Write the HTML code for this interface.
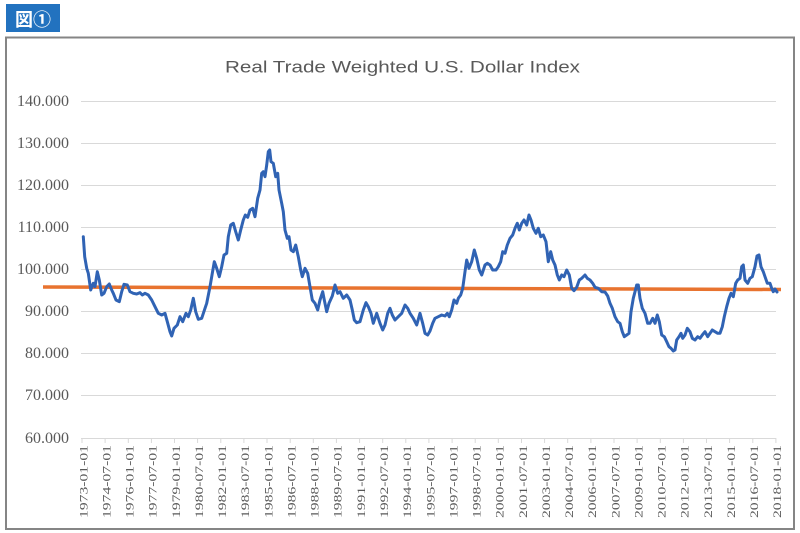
<!DOCTYPE html>
<html>
<head>
<meta charset="utf-8">
<style>
  html,body{margin:0;padding:0;background:#fff;}
  svg{display:block;}
</style>
</head>
<body>
<svg width="800" height="533" viewBox="0 0 800 533" xmlns="http://www.w3.org/2000/svg">
  <rect x="0" y="0" width="800" height="533" fill="#ffffff"/>
  <!-- label box -->
  <rect x="6" y="4" width="54" height="28" fill="#2272bf"/>
  <text x="33" y="26" text-anchor="middle" font-family="'Liberation Sans','Noto Sans CJK JP',sans-serif" font-size="18" font-weight="bold" fill="#ffffff">図①</text>
  <!-- chart border -->
  <rect x="6" y="37.5" width="788" height="491.5" fill="#ffffff" stroke="#858585" stroke-width="2"/>
  <!-- title -->
  <text x="402.5" y="72.5" text-anchor="middle" font-family="'Liberation Sans',sans-serif" font-size="17" fill="#595959" textLength="355" lengthAdjust="spacingAndGlyphs">Real Trade Weighted U.S. Dollar Index</text>
  <!-- gridlines -->
  <g stroke="#d9d9d9" stroke-width="1">
    <line x1="81" y1="101.5" x2="776" y2="101.5"/>
    <line x1="81" y1="143.5" x2="776" y2="143.5"/>
    <line x1="81" y1="185.5" x2="776" y2="185.5"/>
    <line x1="81" y1="227.5" x2="776" y2="227.5"/>
    <line x1="81" y1="269.5" x2="776" y2="269.5"/>
    <line x1="81" y1="311.5" x2="776" y2="311.5"/>
    <line x1="81" y1="353.5" x2="776" y2="353.5"/>
    <line x1="81" y1="395.5" x2="776" y2="395.5"/>
    <line x1="81" y1="438.5" x2="776" y2="438.5"/>
  </g>
  <!-- y labels -->
  <g font-family="'Liberation Serif',serif" font-size="16" fill="#595959" text-anchor="end">
    <text x="69" y="106">140.000</text>
    <text x="69" y="148">130.000</text>
    <text x="69" y="190">120.000</text>
    <text x="69" y="232">110.000</text>
    <text x="69" y="274">100.000</text>
    <text x="69" y="316">90.000</text>
    <text x="69" y="358">80.000</text>
    <text x="69" y="400">70.000</text>
    <text x="69" y="443">60.000</text>
  </g>
  <!-- x ticks -->
  <g stroke="#d9d9d9" stroke-width="1" id="ticks"></g>
  <g id="xlabels" font-family="'Liberation Serif',serif" font-size="11.5" fill="#595959"></g>
  <!-- orange mean line -->
  <line x1="43" y1="287" x2="781" y2="289.5" stroke="#e8732f" stroke-width="3.5"/>
  <!-- blue series -->
  <polyline fill="none" stroke="#3063b4" stroke-width="3" stroke-linejoin="round" stroke-linecap="round" points="
83.3,236.7 84.7,256.7 86.7,268.3 88.3,273.3 90.7,290 93.3,283.3 95,286.7 97.3,271.7 99.3,280 101.7,295 104,293.3 106.7,286.7 109.3,284 111.7,290 113.3,293.3 116,300 119.3,301.7 121.7,291.7 124,284.3 127.3,285 130,291.7 133.3,293.3 136.7,294 140,292.7 142.3,295 145,293.3 148.3,295 151.7,300 155,306.7 158.3,313.3 161.7,315 165,313.3 167.3,321.7 170,331.7 171.7,336 174,328.3 177.3,325 180,316.7 182.7,321.7 186,313.3 188.3,316.7 190.7,310 193.3,298.3 195.7,311.7 198.3,319.3 201.7,318.3 205,308.3 206.7,303.3 210,286.7 212.3,273.3 214.3,261.7 216.7,268.3 219.3,276.7 221.7,266.7 224,255 226.7,253.3 228.3,236.7 230.7,225 233.3,223.3 235.7,231.7 238.3,240 240.7,230 243.3,220 245.3,215 247.7,217.3 250,210 252.7,208.3 255,216.7
257.7,198.3 260,190 261.7,173.3 263.3,171.7 265,176.7 266.7,165 268.3,151.7 269.7,150 271,161.7 273.3,163.3 275.7,176.7 277.7,173.3 279,190 281.7,203.3 283.3,211.7 285,230 287.3,238.3 289,236.7 291,250 293.3,251.7 295.7,245 298.3,256.7 300.7,270 302.3,276.7 305,268.3 307.7,273.3 310,286.7 312.3,300 315,303.3 317.7,310 320,300 322.7,291.7 324.3,300 326.7,311.7 329,303.3 332.3,296 335,285 337.7,293.3 340,291.7 343.3,298.3 346.7,295 350,300 352.3,310 354.3,320 356.7,322.7 360,321.7 363.3,310 366,302.7 368.3,306.7 371,313.3 373.3,323.3 376.7,313.3 380,323.3 382.7,330 385,325 387.7,313.3 390,308.3 392.3,315 395,320 398.3,316.7 401.7,313.3 405,305 407.7,308.3 410,313.3 413.3,318.3 416.7,325 420,313.3 422.7,323.3 425,333.3 427.7,335
430,331 432.7,323.3 435,318.3 438.3,316.7 441.7,315 445,316 447.3,313.3 449.3,316.7 451.7,310 454,300 456.7,303.3 458.3,298.3 460.7,295 462.7,288.3 465,271.7 466.7,260 469,268.3 471.7,261.7 474.3,250 476.7,258.3 479.3,270 481.7,275 485,265 487.3,263.3 490,265 492.7,270 496,270 498.3,266.7 500.7,261.7 502.7,251.7 505,253.3 507.3,245 510,238.3 512.7,235 515,228.3 517.3,223.3 519.3,230 521.7,223.3 524,220 526.7,225 529,215 531,220 533.3,228.3 536,233.3 538.3,228.3 540.7,236.7 543.3,235 546,241.7 548.3,261.7 550.7,251.7 552.7,260 555,265 557.3,275 559.3,280 561.7,275 564,276.7 566.7,270 569.3,275 571.7,288.3 574,290.7 576.7,287.3 579.3,280 581.7,278.3 585,275 587.3,278.3 590,280 592.7,283.3 595,287.3 598.3,288.3 601.7,291.7
605,292 607.7,296 610,303.3 612.3,308.3 615,316.7 617.7,321.7 620,323.3 622.3,331.7 624.3,336.7 626.7,335 629,333.3 631,311.7 633.3,298.3 635,291.7 636.7,285 638.3,285 640,298.3 642.3,308.3 645,313.3 647.7,323.3 650,323.3 652.7,318.3 655,323.3 657.3,315 659.3,321.7 661.7,335 664.3,336.7 666.7,341.7 669,346.7 671,348.3 673.3,351 675,350 676.7,340 679,336.7 681,333.3 682.7,338.3 685,335 687.3,328.3 690,331.7 692.3,338.3 695,340 697.7,336.7 700,338.3 702.3,335 705,331.7 707.7,336.7 710,333.3 712.3,330 715,331.7 717.7,333.3 720,333.3 722.3,326.7 724.3,316.7 726.7,306.7 729,298.3 731,293.3 733.3,296.7 735.7,283.3 737.7,280 740,278.3 741.7,266.7 743.3,265 745,280 747.7,283.3 750,278.3 752.3,276.7 755,266.7 757,256 759,255 761,266.7 763.3,271.7 765,276.7 767.3,283.3 770,283.3 771.7,288.3 773.3,291.7 775,289 777,292"/>
  <script>
    (function(){
      var ns="http://www.w3.org/2000/svg";
      var t=document.getElementById("ticks");
      var l=document.getElementById("xlabels");
      var labels=[];
      var y=1973,m=1;
      for(var i=0;i<31;i++){
        labels.push(y+"-"+(m<10?"0"+m:m)+"-01");
        m+=6; y+=1; if(m>12){m-=12;y+=1;}
      }
      // recompute properly: every 18 months
      labels=[];
      var total=1973*12;
      for(var i=0;i<31;i++){
        var mm=total+i*18; var yy=Math.floor(mm/12); var mo=(mm%12)+1;
        labels.push(yy+"-"+(mo<10?"0"+mo:mo)+"-01");
      }
      for(var i=0;i<31;i++){
        var x=82+i*23.13;
        var ln=document.createElementNS(ns,"line");
        ln.setAttribute("x1",x.toFixed(1));ln.setAttribute("x2",x.toFixed(1));
        ln.setAttribute("y1","438");ln.setAttribute("y2","443");
        t.appendChild(ln);
        var tx=document.createElementNS(ns,"text");
        var bx=x+5.3;
        tx.setAttribute("x",bx.toFixed(1));tx.setAttribute("y","445");
        tx.setAttribute("text-anchor","end");
        tx.setAttribute("transform","rotate(-90 "+bx.toFixed(1)+" 445)");
        tx.setAttribute("textLength","73");
        tx.setAttribute("lengthAdjust","spacingAndGlyphs");
        tx.textContent=labels[i];
        l.appendChild(tx);
      }
    })();
  </script>
</svg>
</body>
</html>
